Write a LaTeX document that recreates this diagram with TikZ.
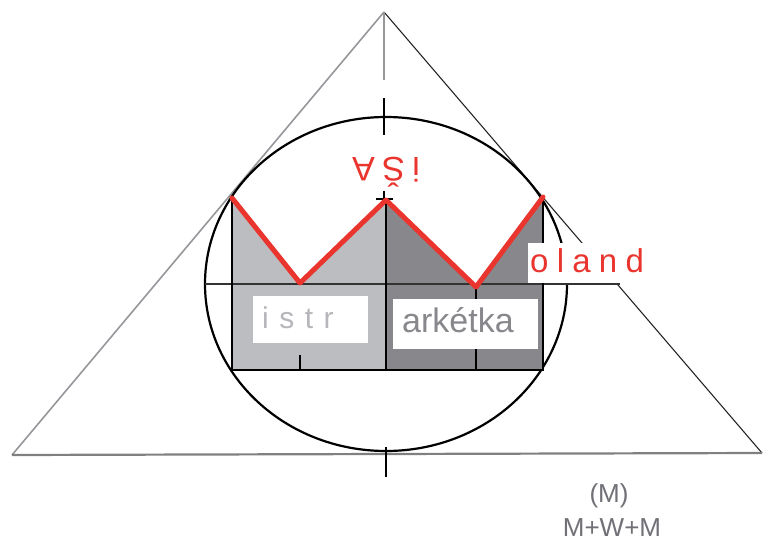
\documentclass[tikz,border=0pt]{standalone}
\usepackage{fontspec}
\setmainfont{Liberation Sans}
\newfontfamily\spacedI[LetterSpace=35]{Liberation Sans}
\newfontfamily\spacedO[LetterSpace=25]{Liberation Sans}
\newfontfamily\spacedA[LetterSpace=22]{Liberation Sans}
\definecolor{lightfill}{RGB}{188,189,193}
\definecolor{darkfill}{RGB}{135,135,140}
\definecolor{crownred}{RGB}{234,52,46}
\definecolor{trigray}{RGB}{150,150,155}
\definecolor{labelgray}{RGB}{112,112,118}
\definecolor{istrgray}{RGB}{182,182,187}
\tikzset{
  frameline/.style={black, line width=2.2pt},
  whitebox/.style={fill=white, draw=none},
  txt/.style={inner sep=0pt, anchor=base west},
}
\begin{document}
\begin{tikzpicture}[x=1pt, y=-1pt]
\useasboundingbox (0,0) rectangle (763,546);
% key points
\coordinate (apex) at (384,12);
\coordinate (bl) at (12,455);
\coordinate (br) at (762,453);
\coordinate (hl) at (205,284);
\coordinate (hr) at (620,284);
\coordinate (c1) at (232,198);
\coordinate (c2) at (300,283);
\coordinate (c3) at (386,200);
\coordinate (c4) at (476,287);
\coordinate (c5) at (543,197);
\coordinate (b1) at (232,370);
\coordinate (bm) at (386,370);
\coordinate (b5) at (543,370);
% triangle
\draw[trigray, line width=1.6pt] (bl) -- (apex);
\draw[black!85, line width=1.1pt] (apex) -- (br);
\draw[gray, line width=2.2pt] (bl) -- (br);
% axis
\draw[trigray, line width=1.8pt] (apex) -- (384,80);
\draw[black, line width=2pt] (384,98) -- (384,135);
\draw[black, line width=2pt] (384,191) -- (384,200);
\draw[black, line width=2pt] (376,199) -- (393,199);
\draw[black, line width=2pt] (386,447) -- (386,477);
% circle
\draw[black, line width=2.2pt] (386,284) ellipse [x radius=181pt, y radius=167pt];
% crown fills
\fill[lightfill] (c1) -- (c2) -- (c3) -- (bm) -- (b1) -- cycle;
\fill[darkfill] (c3) -- (c4) -- (c5) -- (b5) -- (bm) -- cycle;
% horizontal line
\draw[black!80, line width=1.2pt] (hl) -- (hr);
% crown frame
\draw[frameline] (c1) -- (b1) -- (b5) -- (c5);
\draw[frameline] (c3) -- (bm);
\draw[frameline] (300,355) -- (300,370);
\draw[frameline] (c4) -- (476,370);
% red zigzag
\draw[crownred, line width=5pt, line join=round, line cap=round] (c1) -- (c2) -- (c3) -- (c4) -- (c5);
% label boxes
\fill[whitebox] (253,296) rectangle (368,343);
\fill[whitebox] (393,299) rectangle (538,349);
\fill[whitebox] (528,243) rectangle (655,283);
% texts
\node[txt, text=istrgray, font=\spacedI\fontsize{30}{34}\selectfont] (istr) at (262,328) {istr};
\node[txt, text=darkfill, font=\fontsize{34}{38}\selectfont] (ark) at (402,332) {arkétka};
\node[txt, text=crownred, font=\spacedO\fontsize{33}{36}\selectfont] (oland) at (530,272) {oland};
\node[inner sep=0pt, anchor=base, rotate=180, text=crownred, font=\spacedA\fontsize{34}{38}\selectfont] (asi) at (386,157) {iŠA};
\node[inner sep=0pt, text=labelgray, font=\fontsize{26}{30}\selectfont] (m1) at (609,496) {(M)};
\node[inner sep=0pt, text=labelgray, font=\fontsize{26}{30}\selectfont] (m2) at (612,528) {M+W+M};
\end{tikzpicture}
\end{document}
